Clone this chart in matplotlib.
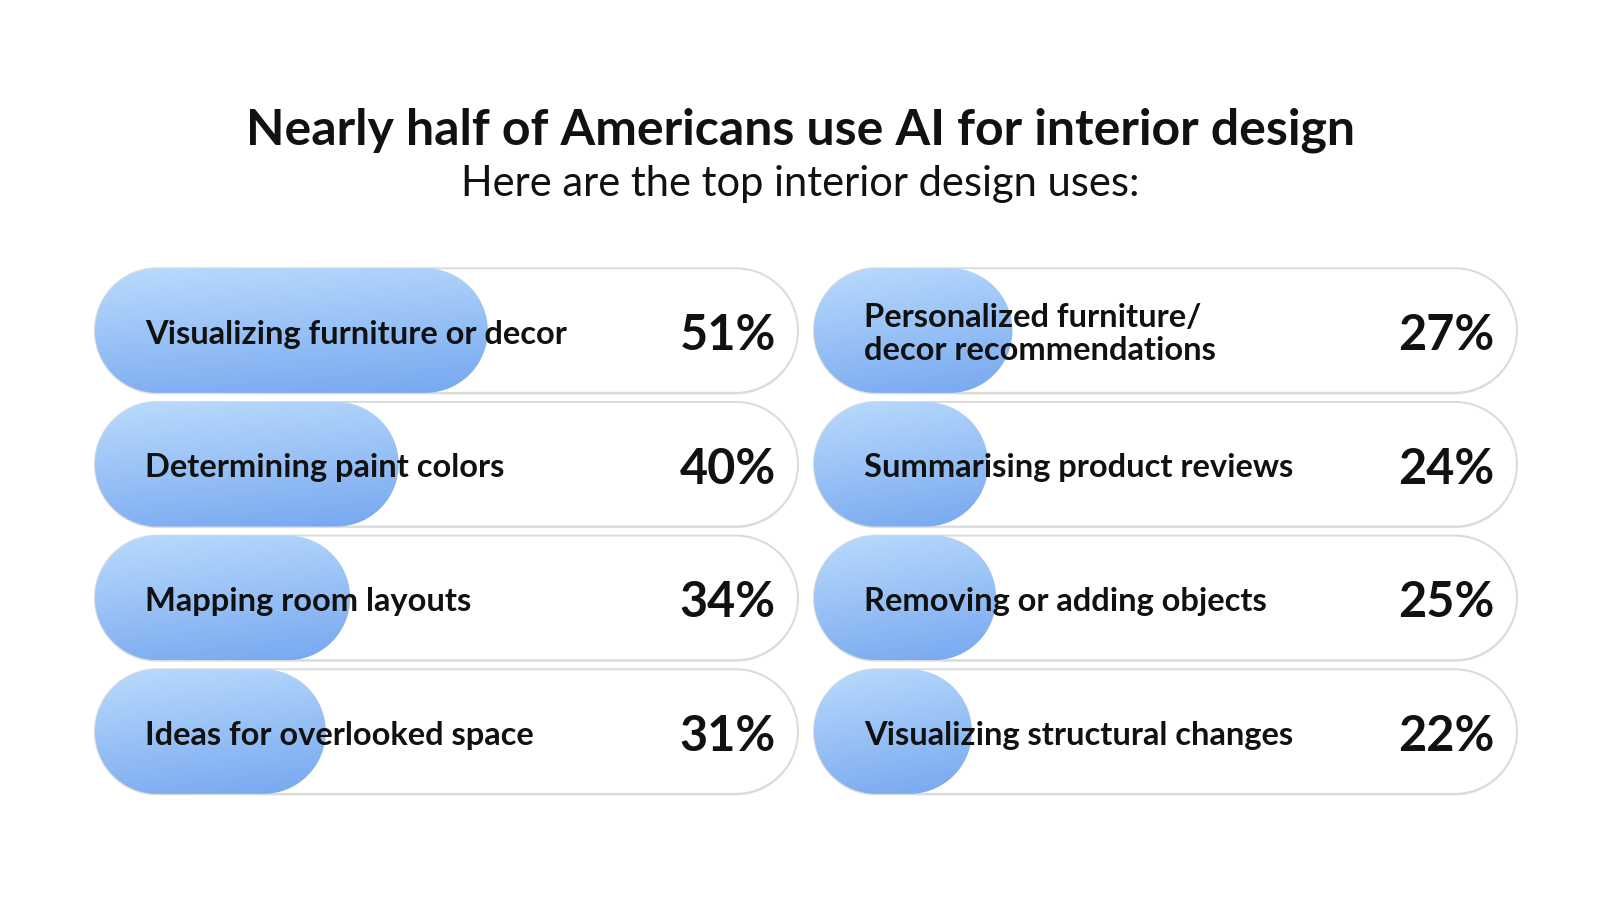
import numpy as np
import matplotlib.pyplot as plt
from matplotlib.patches import Polygon

plt.rcParams['font.family'] = ['Lato', 'DejaVu Sans']

# chart data
title = 'Nearly half of Americans use AI for interior design'
subtitle = 'Here are the top interior design uses:'
left_labels = ['Visualizing furniture or decor', 'Determining paint colors',
               'Mapping room layouts', 'Ideas for overlooked space']
left_values = [51, 40, 34, 31]
right_labels = ['Personalized furniture/\ndecor recommendations', 'Summarising product reviews',
                'Removing or adding objects', 'Visualizing structural changes']
right_values = [27, 24, 25, 22]

# pill geometry (x in percent units, y in rows)
X0, X1 = 2.5, 89.3
HALF_H = 0.466
FIG_W, FIG_H = 1600, 900


def pill_points(ax, a, b, c, h):
    # radius in x units so the ends are circles on screen
    p0 = ax.transData.transform((0, 0))
    px = ax.transData.transform((1, 0))[0] - p0[0]
    py = abs(ax.transData.transform((0, 1))[1] - p0[1])
    rx = h * py / px
    t1 = np.linspace(-np.pi / 2, np.pi / 2, 60)
    t2 = np.linspace(np.pi / 2, 3 * np.pi / 2, 60)
    right = np.column_stack([b - rx + rx * np.cos(t1), c - h * np.sin(t1)])
    left = np.column_stack([a + rx + rx * np.cos(t2), c - h * np.sin(t2)])
    return np.vstack([right[::-1], left[::-1]])


def blue_gradient():
    top = np.array([186, 219, 252]) / 255
    bot = np.array([118, 167, 240]) / 255
    yy = np.linspace(0, 1, 100)[:, None]
    xx = np.linspace(0, 1, 100)[None, :]
    mix = np.clip(0.8 * yy + 0.2 * xx, 0, 1)[..., None]
    return top * (1 - mix) + bot * mix


def draw_column(ax, labels, values):
    ax.set_xlim(X0, X1)
    ax.set_ylim(3.5, -0.5)
    ax.axis('off')
    grad = blue_gradient()
    for i, (lab, val) in enumerate(zip(labels, values)):
        # soft shadow + outline of the full pill
        shadow = Polygon(pill_points(ax, X0, X1, i + 0.012, HALF_H), closed=True,
                         facecolor='#e4e4e4', edgecolor='none', clip_on=False, zorder=1)
        ax.add_patch(shadow)
        outer = Polygon(pill_points(ax, X0, X1, i, HALF_H), closed=True,
                        facecolor='white', edgecolor='#dadada', lw=1.4, clip_on=False, zorder=2)
        ax.add_patch(outer)
        # blue value pill with gradient
        fill = Polygon(pill_points(ax, X0, val, i, HALF_H), closed=True,
                       facecolor='none', edgecolor='none', zorder=3)
        ax.add_patch(fill)
        img = ax.imshow(grad, extent=(X0, val, i + HALF_H, i - HALF_H),
                        aspect='auto', zorder=3, interpolation='bilinear')
        img.set_clip_path(fill)
        ax.annotate(lab, xy=(X0, i), xytext=(36, -2.5), textcoords='offset points',
                    ha='left', va='center', fontsize=23.5, fontweight='bold',
                    color='#111111', linespacing=1.2, zorder=5)
        ax.annotate(f'{val}%', xy=(X1, i), xytext=(-16, -3.5), textcoords='offset points',
                    ha='right', va='center', fontsize=35, fontweight='bold',
                    color='#111111', zorder=5)
    ax.set_xlim(X0, X1)
    ax.set_ylim(3.5, -0.5)


fig = plt.figure(figsize=(16, 9), dpi=100)
fig.patch.set_facecolor('white')

fig.text(0.5, 1 - 130 / FIG_H, title, ha='center', va='center',
         fontsize=36, fontweight='bold', color='#111111')
fig.text(0.5, 1 - 184 / FIG_H, subtitle, ha='center', va='center',
         fontsize=30, color='#111111')

bottom = 1 - 798.4 / FIG_H
height = 534.7 / FIG_H
ax_left = fig.add_axes([95 / FIG_W, bottom, 703 / FIG_W, height])
ax_right = fig.add_axes([814 / FIG_W, bottom, 703 / FIG_W, height])
draw_column(ax_left, left_labels, left_values)
draw_column(ax_right, right_labels, right_values)

fig.savefig('out.png', dpi=100, facecolor='white')
